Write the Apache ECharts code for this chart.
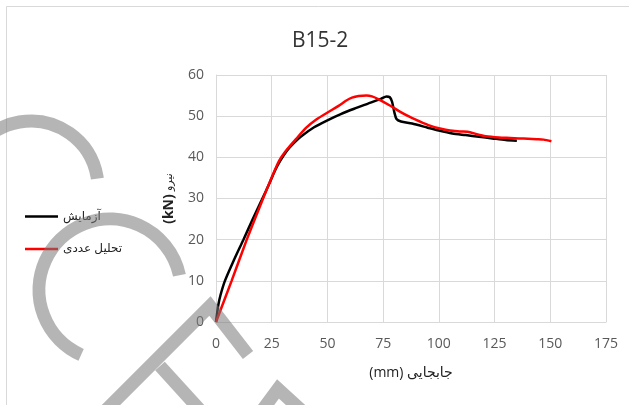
<!DOCTYPE html>
<html>
<head>
<meta charset="utf-8">
<script src="https://cdn.jsdelivr.net/npm/echarts@6/dist/echarts.min.js"></script>
<style>
  html, body { margin: 0; padding: 0; background: #fff; }
  #chart { width: 629px; height: 405px; }
</style>
</head>
<body>
<div id="chart"></div>
<script>
// Load–displacement curves for specimen B15-2
const chartTitle = 'B15-2';
const seriesNames = ['آزمایش', 'تحلیل عددی'];

// Test (black) curve: displacement (mm) and force (kN)
const testDisp = [0, 1, 2, 4, 8, 12.3, 16.5, 20.5, 24, 26.5, 29, 32, 35, 38, 44, 50, 56, 62, 68, 74, 76.5, 78, 79, 80, 81, 83, 88, 95, 100, 106, 112, 118, 124, 130, 135];
const testForce = [0, 4, 6.5, 10, 15, 20, 25, 29.6, 33.7, 36.8, 39.3, 41.7, 43.5, 45, 47.3, 49, 50.5, 51.8, 53, 54.2, 54.8, 54.6, 53.5, 51, 49.3, 48.7, 48.2, 47.2, 46.5, 45.8, 45.4, 45, 44.6, 44.2, 44.0];

// Numerical analysis (red) curve
const femDisp = [0, 7, 13.8, 20, 25.7, 28.5, 32, 36, 40.5, 45, 51, 55, 58.5, 61, 64, 67.5, 70, 73, 78, 82.5, 87, 91.5, 96, 100.5, 105, 110, 114, 117, 121, 127, 132, 136, 140, 144, 147, 150.5];
const femForce = [0, 10, 20, 28.5, 36, 39.3, 42, 44.5, 47.2, 49.2, 51.2, 52.5, 53.8, 54.5, 54.9, 55.0, 54.8, 54.1, 52.6, 51.1, 49.8, 48.7, 47.7, 47.0, 46.5, 46.3, 46.1, 45.6, 45.1, 44.8, 44.7, 44.6, 44.5, 44.4, 44.3, 43.9];

// Axis ranges and ticks
const xTicks = [0, 25, 50, 75, 100, 125, 150, 175];
const yTicks = [0, 10, 20, 30, 40, 50, 60];

const pairs = (xs, ys) => xs.map((x, i) => [x, ys[i]]);

const FONT = "'Open Sans', 'DejaVu Sans', sans-serif";
const GRID = '#d9d9d9';
const LABEL = '#595959';

// Grey watermark strokes (two C arcs and an E)
const WM = { stroke: 'rgba(120,120,120,0.55)', lineWidth: 13, fill: null, lineCap: 'butt', lineJoin: 'miter' };
const deg = (d) => d * Math.PI / 180;
const watermark = [
  { type: 'arc', shape: { cx: 31, cy: 188, r: 67, startAngle: deg(-190), endAngle: deg(-8), clockwise: true } },
  { type: 'arc', shape: { cx: 110, cy: 290, r: 71, startAngle: deg(-246), endAngle: deg(-12), clockwise: true } },
  { type: 'polyline', shape: { points: [[98, 418], [210, 306], [248, 355]] } },
  { type: 'polyline', shape: { points: [[160, 366], [200, 410]] } },
  { type: 'polyline', shape: { points: [[255, 420], [278, 389], [312, 420]] } }
].map((el) => Object.assign(el, { z: 100, silent: true, style: Object.assign({}, WM) }));

const chart = echarts.init(document.getElementById('chart'), null, { renderer: 'canvas' });

chart.setOption({
  backgroundColor: '#fff',
  animation: false,
  title: {
    text: chartTitle,
    left: 287,
    top: 26,
    textStyle: { fontFamily: FONT, fontSize: 21, fontWeight: 'normal', color: '#333' }
  },
  legend: {
    orient: 'vertical',
    left: 20,
    top: 205.5,
    padding: 5,
    icon: 'rect',
    itemWidth: 33,
    itemHeight: 2.5,
    itemGap: 20.5,
    data: seriesNames,
    textStyle: { fontFamily: FONT, fontSize: 12, color: '#222' }
  },
  grid: { left: 216, top: 75, right: 23, bottom: 83, containLabel: false },
  xAxis: {
    type: 'value',
    min: xTicks[0],
    max: xTicks[xTicks.length - 1],
    interval: xTicks[1] - xTicks[0],
    name: '(mm) جابجایی',
    nameLocation: 'middle',
    nameGap: 44,
    nameTextStyle: { fontFamily: FONT, fontSize: 14, color: '#222' },
    axisLine: { show: true, lineStyle: { color: GRID, width: 1 } },
    axisTick: { show: false },
    axisLabel: { margin: 15, fontFamily: FONT, fontSize: 14, color: LABEL },
    splitLine: { show: true, lineStyle: { color: GRID, width: 1 } }
  },
  yAxis: {
    type: 'value',
    min: yTicks[0],
    max: yTicks[yTicks.length - 1],
    interval: yTicks[1] - yTicks[0],
    name: '{a|(kN)} {b|نیرو}',
    nameLocation: 'middle',
    nameGap: 40,
    nameRotate: 90,
    nameTextStyle: {
      color: '#222',
      rich: {
        a: { fontFamily: FONT, fontSize: 14, fontWeight: 'bold', color: '#222' },
        b: { fontFamily: FONT, fontSize: 11, color: '#222' }
      }
    },
    axisLine: { show: true, lineStyle: { color: GRID, width: 1 } },
    axisTick: { show: false },
    axisLabel: { margin: 12, fontFamily: FONT, fontSize: 14, color: LABEL },
    splitLine: { show: true, lineStyle: { color: GRID, width: 1 } }
  },
  series: [
    {
      name: seriesNames[0],
      type: 'line',
      data: pairs(testDisp, testForce),
      smooth: 0.25,
      symbol: 'none',
      itemStyle: { color: '#000' },
      lineStyle: { color: '#000', width: 2.5 }
    },
    {
      name: seriesNames[1],
      type: 'line',
      data: pairs(femDisp, femForce),
      smooth: 0.25,
      symbol: 'none',
      itemStyle: { color: '#ff0000' },
      lineStyle: { color: '#ff0000', width: 2.5 }
    }
  ],
  graphic: [
    {
      type: 'rect',
      z: 0,
      silent: true,
      shape: { x: 6.5, y: 6.5, width: 700, height: 500 },
      style: { fill: null, stroke: GRID, lineWidth: 1 }
    }
  ].concat(watermark)
});
</script>
</body>
</html>
